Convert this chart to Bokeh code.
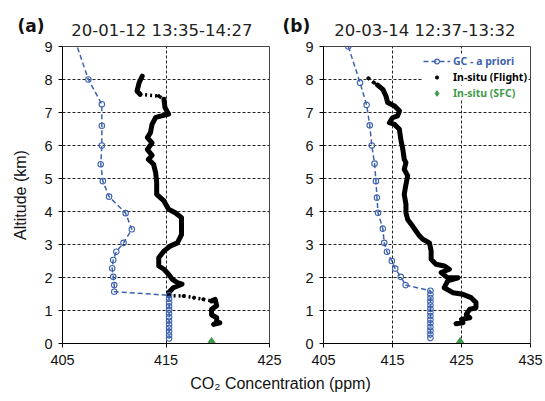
from bokeh.plotting import figure
from bokeh.layouts import column, row
from bokeh.models import Label, Legend, LegendItem, FixedTicker, Range1d
from bokeh.embed import file_html
from bokeh.resources import INLINE

# ---------------- data ----------------
PANEL_TAGS = ["(a)", "(b)"]
PANEL_TITLES = ["20-01-12  13:35-14:27", "20-03-14  12:37-13:32"]
X_TICKS_A = [405, 415, 425]
X_TICKS_B = [405, 415, 425, 435]
Y_TICKS = [0, 1, 2, 3, 4, 5, 6, 7, 8, 9]

# GC a priori profile, panel (a)
A_GC_X = [406.2, 407.5, 408.8, 408.8, 408.8, 408.7, 408.9, 409.5, 411.1, 411.7, 410.9,
          410.2, 409.9, 409.8, 409.9, 410.0, 410.0,
          415.3, 415.3, 415.3, 415.3, 415.3, 415.3, 415.3, 415.3, 415.3, 415.3, 415.3, 415.3, 415.3]
A_GC_Y = [9.2, 8.0, 7.25, 6.6, 6.0, 5.43, 4.92, 4.45, 3.95, 3.46, 3.05,
          2.78, 2.53, 2.28, 2.02, 1.77, 1.57,
          1.46, 1.35, 1.24, 1.13, 1.02, 0.91, 0.80, 0.69, 0.58, 0.47, 0.36, 0.25, 0.15]

# GC a priori profile, panel (b)
B_GC_X = [408.6, 410.3, 411.25, 411.7, 412.0, 412.4, 412.6, 412.75, 412.9, 413.6, 413.8,
          414.2, 414.9, 415.4, 416.2, 416.9,
          420.5, 420.5, 420.5, 420.5, 420.5, 420.5, 420.5, 420.5, 420.5, 420.5, 420.5, 420.5, 420.5, 420.5]
B_GC_Y = [9.0, 7.9, 7.23, 6.61, 6.0, 5.45, 4.92, 4.42, 3.96, 3.48, 3.05,
          2.78, 2.5, 2.27, 2.02, 1.77,
          1.6, 1.49, 1.38, 1.27, 1.16, 1.05, 0.94, 0.83, 0.72, 0.61, 0.50, 0.39, 0.28, 0.17]

# In-situ flight profile, panel (a)
A_FL_X = [412.7, 412.4, 412.2, 412.5, 414.3, 414.8, 414.9, 415.25, 414.0, 413.65, 413.5,
          413.2, 413.65, 413.2, 413.65, 413.3, 413.8, 414.0, 414.1, 414.1, 414.8, 415.25,
          415.9, 416.5, 416.5, 416.5, 416.1, 415.4, 414.8, 414.3, 414.3, 414.8, 415.25,
          415.6, 416.1, 416.55, 415.7, 415.25, 415.25, 416.7, 417.7, 418.6, 419.4,
          419.75, 419.9, 419.4, 419.4, 419.9, 419.9, 419.6, 420.2]
A_FL_Y = [8.1, 7.9, 7.65, 7.55, 7.5, 7.4, 7.15, 6.95, 6.85, 6.64, 6.39,
          6.24, 6.08, 5.88, 5.7, 5.58, 5.43, 5.18, 4.87, 4.52, 4.32, 4.07,
          3.96, 3.81, 3.51, 3.3, 3.05, 2.95, 2.8, 2.6, 2.35, 2.25, 2.1,
          1.95, 1.84, 1.8, 1.69, 1.54, 1.45, 1.44, 1.39, 1.34, 1.29,
          1.34, 1.14, 1.04, 0.87, 0.78, 0.63, 0.58, 0.63]
A_FL_SPARSE = [(3, 5), (38, 42)]

# In-situ flight profile, panel (b)
B_FL_X = [411.5, 412.35, 412.85, 413.6, 414.05, 414.3, 415.3, 416.0, 415.75, 415.0, 414.55,
          415.3, 416.0, 416.2, 416.5, 416.7, 416.95, 416.7, 417.2, 416.95, 416.7, 416.95,
          416.95, 417.2, 417.9, 418.4, 418.9, 419.4, 420.35, 420.6, 420.6, 421.3, 422.5,
          423.25, 422.05, 423.0, 424.5, 423.0, 422.5, 423.75, 425.2, 426.4, 427.1, 427.1,
          426.2, 425.7, 426.2, 425.0, 425.2, 424.2]
B_FL_Y = [8.04, 7.9, 7.83, 7.7, 7.5, 7.3, 7.2, 7.05, 6.9, 6.84, 6.69,
          6.64, 6.49, 6.19, 5.88, 5.58, 5.48, 5.28, 5.08, 4.82, 4.52, 4.22,
          3.96, 3.76, 3.56, 3.41, 3.26, 3.16, 3.05, 2.8, 2.55, 2.4, 2.35,
          2.25, 2.15, 1.99, 1.99, 1.9, 1.69, 1.54, 1.49, 1.39, 1.24, 1.08,
          1.04, 0.88, 0.78, 0.73, 0.63, 0.6]
B_FL_SPARSE = [(0, 2)]

# In-situ surface value
SFC_X = [419.4, 424.8]
SFC_Y = [0.0, 0.0]

LEGEND_LABELS = ["GC - a priori", "In-situ (Flight)", "In-situ (SFC)"]
AXIS_X_LABEL = "CO\u2082 Concentration (ppm)"
AXIS_Y_LABEL = "Altitude (km)"

BLUE = "#3D62AE"
GREEN = "#3E9A48"
TICK_FONT = "Liberation Sans"
TOP_H = 39


def split_path(xs, ys, sparse):
    dense_x, dense_y, thin_x, thin_y = [], [], [], []
    start = 0
    for i0, i1 in sparse:
        if i0 - start >= 1:
            dense_x.append(xs[start:i0 + 1]); dense_y.append(ys[start:i0 + 1])
        thin_x.append(xs[i0:i1 + 1]); thin_y.append(ys[i0:i1 + 1])
        start = i1
    if len(xs) - start > 1:
        dense_x.append(xs[start:]); dense_y.append(ys[start:])
    return dense_x, dense_y, thin_x, thin_y


def make_panel(width, bl, br, xr, xticks, gx, gy, fx, fy, sparse, sx, sy, ylabel):
    p = figure(width=width, height=372 - TOP_H, x_range=Range1d(*xr), y_range=Range1d(0, 9),
               output_backend="svg", toolbar_location=None,
               min_border_left=bl, min_border_right=br,
               min_border_top=46 - TOP_H, min_border_bottom=29)
    p.background_fill_color = "white"
    p.border_fill_color = "white"
    p.outline_line_color = "#444444"
    p.outline_line_width = 1

    p.xaxis.ticker = FixedTicker(ticks=xticks)
    p.yaxis.ticker = FixedTicker(ticks=Y_TICKS)
    for ax in (p.xaxis[0], p.yaxis[0]):
        ax.axis_line_color = "black"
        ax.major_tick_line_color = "black"
        ax.major_tick_in = 0
        ax.major_tick_out = 4
        ax.minor_tick_line_color = None
        ax.major_label_text_font = TICK_FONT
        ax.major_label_text_font_size = "14.5px"
        ax.major_label_text_color = "#111111"
    p.xaxis.major_label_standoff = 7
    p.yaxis.major_label_standoff = 6
    if ylabel:
        p.yaxis.axis_label = ylabel
        p.yaxis.axis_label_text_font = TICK_FONT
        p.yaxis.axis_label_text_font_size = "16px"
        p.yaxis.axis_label_text_font_style = "normal"
        p.yaxis.axis_label_text_color = "#111111"
        p.yaxis.axis_label_standoff = 12

    p.xgrid.ticker = FixedTicker(ticks=xticks)
    p.ygrid.ticker = FixedTicker(ticks=Y_TICKS)
    for g in (p.xgrid[0], p.ygrid[0]):
        g.grid_line_color = "#222222"
        g.grid_line_dash = "3 2"
        g.grid_line_width = 1

    # flight
    dx, dy, tx, ty = split_path(fx, fy, sparse)
    p.multi_line(dx, dy, line_color="black", line_width=5, line_join="round", line_cap="round")
    p.multi_line(tx, ty, line_color="black", line_width=3.5, line_dash="2 3")
    fl = p.scatter(fx, fy, size=3, color="black")

    # GC a priori
    gl = p.line(gx, gy, line_color=BLUE, line_width=1.5, line_dash="5 3")
    gs = p.scatter(gx, gy, marker="circle", size=5.5, fill_color=None,
                   line_color=BLUE, line_width=1.1)

    # surface
    ss = p.scatter(sx, sy, marker="diamond", size=12, color=GREEN)
    return p, (gl, gs), fl, ss


pa, _, _, _ = make_panel(296, 62, 27, (405, 425), X_TICKS_A, A_GC_X, A_GC_Y,
                         A_FL_X, A_FL_Y, A_FL_SPARSE, SFC_X[:1], SFC_Y[:1], AXIS_Y_LABEL)
pb, gcr, flr, ssr = make_panel(249, 27, 15, (405, 435), X_TICKS_B, B_GC_X, B_GC_Y,
                               B_FL_X, B_FL_Y, B_FL_SPARSE, SFC_X[1:], SFC_Y[1:], None)

leg_specs = [
    (LEGEND_LABELS[0], list(gcr), BLUE, 275.4, 12),
    (LEGEND_LABELS[1], [flr], "black", 258.7, 8),
    (LEGEND_LABELS[2], [ssr], GREEN, 243.0, 14),
]
for lab, rends, col, vy, gh in leg_specs:
    lg = Legend(items=[LegendItem(label=lab, renderers=rends)], location=(100, vy),
                label_text_font="Noto Sans", label_text_font_style="bold",
                label_text_font_size="10.5px", label_text_color=col,
                glyph_width=27, glyph_height=gh, label_height=14, label_standoff=3,
                padding=1, spacing=0, margin=0, border_line_color=None,
                background_fill_color="white", background_fill_alpha=1.0)
    pb.add_layout(lg)


def strip(height):
    s = figure(width=545, height=height, x_range=Range1d(0, 1), y_range=Range1d(0, 1),
               output_backend="svg", toolbar_location=None,
               x_axis_location=None, y_axis_location=None,
               min_border_left=0, min_border_right=0, min_border_top=0, min_border_bottom=0)
    s.outline_line_color = None
    s.xgrid.visible = False
    s.ygrid.visible = False
    return s


top = strip(TOP_H)
tag_x = [17, 282]
title_x = [164, 427]
for i in range(2):
    top.add_layout(Label(x=tag_x[i], y=TOP_H - 25, x_units="screen", y_units="screen",
                         text=PANEL_TAGS[i], text_font="DejaVu Sans", text_font_style="bold",
                         text_font_size="17px", text_baseline="middle", text_color="#111111"))
    top.add_layout(Label(x=title_x[i], y=TOP_H - 30, x_units="screen", y_units="screen",
                         text=PANEL_TITLES[i], text_font="DejaVu Sans", text_font_size="16.5px",
                         text_align="center", text_baseline="middle", text_color="#222222"))

bottom = strip(29)
bottom.add_layout(Label(x=280, y=18, x_units="screen", y_units="screen", text=AXIS_X_LABEL,
                        text_font=TICK_FONT, text_font_size="16px",
                        text_align="center", text_baseline="middle", text_color="#111111"))

layout = column(top, row(pa, pb, spacing=0), bottom, spacing=0)
open("out.html", "w").write(file_html(layout, INLINE))
